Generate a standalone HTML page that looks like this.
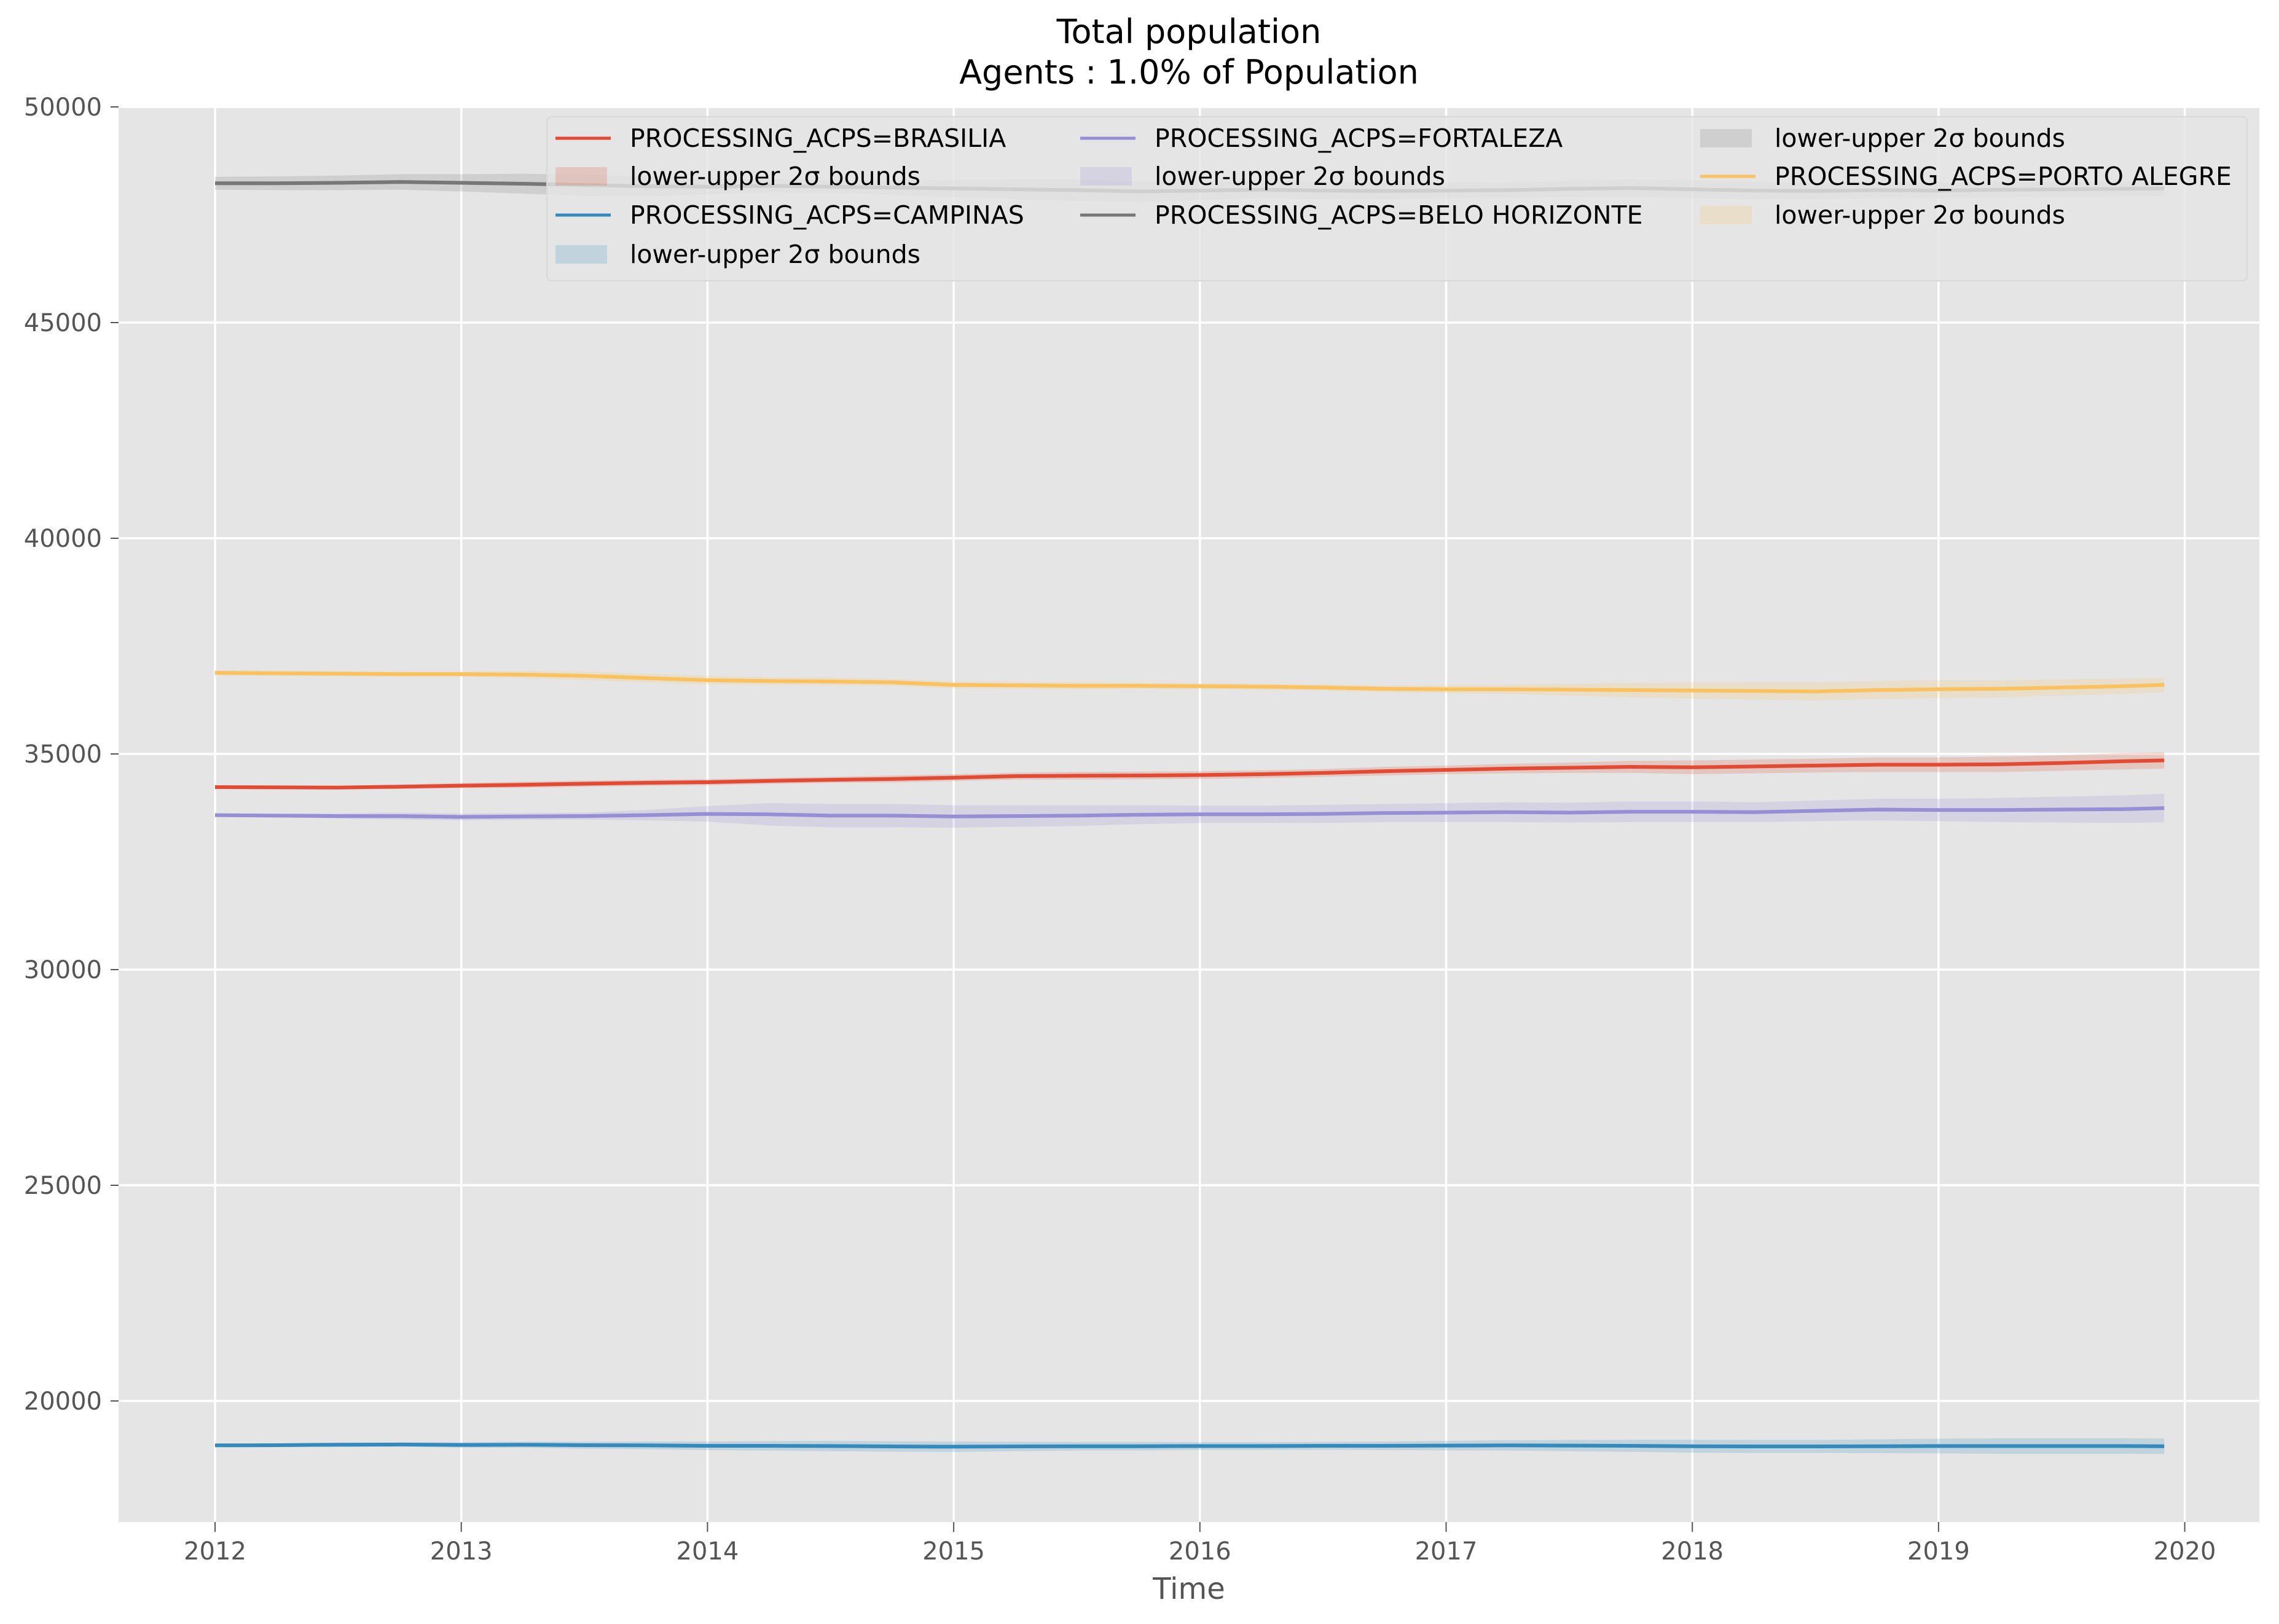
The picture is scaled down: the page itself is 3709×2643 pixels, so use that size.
<!DOCTYPE html>
<html><head><meta charset="utf-8">
<style>
html,body{margin:0;padding:0;background:#fff;}
svg{display:block;font-family:"DejaVu Sans","Liberation Sans",sans-serif;}
</style></head>
<body>
<svg id="chart" width="3709" height="2643" viewBox="0 0 3709 2643" xmlns="http://www.w3.org/2000/svg">
  <rect x="0" y="0" width="3709" height="2643" fill="#ffffff"/>
  <rect x="193" y="174" width="3484" height="2303" fill="#E5E5E5"/>
  <g id="grid"></g>
  <g id="bands"></g>
  <g id="lines"></g>
  <g id="axes"></g>
  <text x="1935" y="70" font-size="54" text-anchor="middle" fill="#000">Total population</text>
  <text x="1935" y="136" font-size="54" text-anchor="middle" fill="#000">Agents : 1.0% of Population</text>
  <text x="1935" y="2602" font-size="48" text-anchor="middle" fill="#555">Time</text>
  <g id="legend"></g>
</svg>
<script>
// months since Jan 2012
const months = [0,3,6,9,12,15,18,21,24,27,30,33,36,39,42,45,48,51,54,57,60,63,66,69,72,75,78,81,84,87,90,93,95];
const brasilia = [34230,34225,34220,34240,34265,34285,34310,34330,34345,34375,34400,34420,34450,34485,34495,34500,34510,34530,34560,34600,34630,34660,34680,34700,34690,34710,34730,34750,34750,34760,34790,34830,34850];
const brasiliaBand = [40,40,40,50,60,70,70,70,70,70,70,80,80,80,90,90,90,90,90,100,100,110,120,140,160,160,160,170,170,180,180,190,190];
const campinas = [18970,18975,18985,18990,18980,18985,18975,18970,18960,18960,18955,18945,18940,18945,18950,18950,18955,18955,18960,18960,18965,18970,18965,18960,18950,18945,18945,18950,18955,18955,18955,18955,18950];
const campinasBand = [30,40,50,50,60,70,80,90,100,110,120,120,120,110,100,100,90,90,90,100,110,120,130,140,150,150,150,160,170,180,180,180,180];
const fortaleza = [33580,33570,33560,33560,33540,33550,33560,33580,33610,33600,33570,33570,33550,33560,33570,33590,33600,33600,33610,33630,33640,33650,33640,33660,33660,33650,33680,33710,33700,33700,33710,33720,33745];
const fortalezaBand = [40,40,60,80,80,80,80,120,180,260,270,270,260,250,240,220,200,200,210,210,220,230,230,240,240,230,240,250,260,280,300,320,330];
const beloHorizonte = [48230,48230,48240,48260,48240,48220,48190,48160,48150,48170,48150,48130,48110,48090,48070,48040,48060,48080,48060,48050,48060,48070,48100,48120,48090,48060,48050,48070,48060,48080,48090,48100,48110];
const beloHorizonteBand = [150,160,170,180,200,230,250,230,180,160,150,170,200,230,250,240,220,200,200,190,180,180,190,200,210,200,190,190,180,180,170,170,170];
const portoAlegre = [36880,36870,36860,36850,36850,36840,36810,36760,36710,36690,36680,36660,36600,36590,36580,36580,36570,36560,36540,36510,36500,36500,36490,36480,36470,36460,36450,36480,36500,36510,36540,36570,36600];
const portoAlegreBand = [60,60,60,60,60,80,100,100,100,90,90,80,80,80,80,70,70,70,70,80,90,110,140,170,190,200,210,210,210,200,190,180,170];
const yTicks = [20000,25000,30000,35000,40000,45000,50000];
const xTicks = [2012,2013,2014,2015,2016,2017,2018,2019,2020];

const NS = "http://www.w3.org/2000/svg";
function xScale(m){ return 350 + m/12*400.7; }
function xYear(y){ return xScale((y-2012)*12); }
function yScale(v){ return 174 + (50000-v)/5000*351; }
function mk(tag, attrs, parent){ const e=document.createElementNS(NS,tag); for(const k in attrs) e.setAttribute(k,attrs[k]); parent.appendChild(e); return e; }

const grid=document.getElementById('grid'), axes=document.getElementById('axes');
yTicks.forEach(t=>{
  const y=yScale(t);
  const g=mk('line',{x1:193,x2:3677,y1:y,y2:y,stroke:'#fff','stroke-width':3.5},grid);
  
  
  const tk=mk('line',{x1:180,x2:193,y1:y,y2:y,stroke:'#555','stroke-width':2},axes);
  
  
  const tl=mk('text',{x:166,y:y+14,'font-size':40,'text-anchor':'end',fill:'#555'},axes);
  tl.textContent=t;
  
  
});
xTicks.forEach(t=>{
  const x=xYear(t);
  const g=mk('line',{x1:x,x2:x,y1:174,y2:2477,stroke:'#fff','stroke-width':3.5},grid);
  
  
  const tk=mk('line',{x1:x,x2:x,y1:2477,y2:2493,stroke:'#555','stroke-width':2},axes);
  
  
  const tl=mk('text',{x:x,y:2538,'font-size':40,'text-anchor':'middle',fill:'#555'},axes);
  tl.textContent=t;
  
  
});

const series=[
  {name:'brasilia',vals:brasilia,band:brasiliaBand,color:'#E24A33'},
  {name:'campinas',vals:campinas,band:campinasBand,color:'#348ABD'},
  {name:'fortaleza',vals:fortaleza,band:fortalezaBand,color:'#988ED5'},
  {name:'belo-horizonte',vals:beloHorizonte,band:beloHorizonteBand,color:'#777777'},
  {name:'porto-alegre',vals:portoAlegre,band:portoAlegreBand,color:'#FBC15E'}
];
const bands=document.getElementById('bands'), lines=document.getElementById('lines');
series.forEach(s=>{
  let up=[],lo=[];
  months.forEach((m,i)=>{ up.push(xScale(m)+','+yScale(s.vals[i]+s.band[i])); lo.push(xScale(m)+','+yScale(s.vals[i]-s.band[i])); });
  const poly=mk('polygon',{points:up.concat(lo.reverse()).join(' '),fill:s.color,'fill-opacity':0.2},bands);
  
  
  const pts=months.map((m,i)=>xScale(m)+','+yScale(s.vals[i])).join(' ');
  const pl=mk('polyline',{points:pts,fill:'none',stroke:s.color,'stroke-width':6,'stroke-linejoin':'round'},lines);
  
  
});

// legend
const lg=document.getElementById('legend');
const box=mk('rect',{x:890,y:190,width:2767,height:267,rx:8,fill:'#E5E5E5','fill-opacity':0.8,stroke:'#D8D8D8','stroke-width':2},lg);


const cols=[904,1758,2767];
const rows=[225,287,350,414];
const entries=[
  [0,0,'line','#E24A33','PROCESSING_ACPS=BRASILIA'],
  [0,1,'patch','#E24A33','lower-upper 2σ bounds'],
  [0,2,'line','#348ABD','PROCESSING_ACPS=CAMPINAS'],
  [0,3,'patch','#348ABD','lower-upper 2σ bounds'],
  [1,0,'line','#988ED5','PROCESSING_ACPS=FORTALEZA'],
  [1,1,'patch','#988ED5','lower-upper 2σ bounds'],
  [1,2,'line','#777777','PROCESSING_ACPS=BELO HORIZONTE'],
  [2,0,'patch','#777777','lower-upper 2σ bounds'],
  [2,1,'line','#FBC15E','PROCESSING_ACPS=PORTO ALEGRE'],
  [2,2,'patch','#FBC15E','lower-upper 2σ bounds']
];
entries.forEach(e=>{
  const x=cols[e[0]], y=rows[e[1]];
  let h;
  if(e[2]==='line'){ h=mk('line',{x1:x,x2:x+90,y1:y,y2:y,stroke:e[3],'stroke-width':5},lg); }
  else { h=mk('rect',{x:x,y:y-15,width:84,height:30,fill:e[3],'fill-opacity':0.2},lg); }
  
  
  const t=mk('text',{x:x+121,y:y+14,'font-size':41,fill:'#000'},lg);
  t.textContent=e[4];
  
  
});
</script>
</body></html>
